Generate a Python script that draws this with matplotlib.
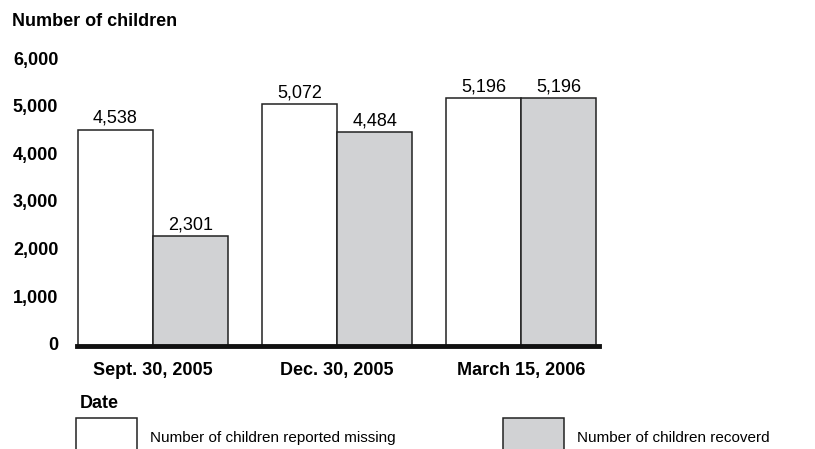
import numpy as np
import matplotlib.pyplot as plt
import matplotlib.transforms as mtransforms
from matplotlib.patches import Patch

plt.rcParams['font.family'] = ['Liberation Sans', 'DejaVu Sans']

dates = ['Sept. 30, 2005', 'Dec. 30, 2005', 'March 15, 2006']
missing = [4538, 5072, 5196]
recovered = [2301, 4484, 5196]
yticks = [0, 1000, 2000, 3000, 4000, 5000, 6000]


def main():
    fig = plt.figure(figsize=(8.15, 4.49), dpi=100)
    ax = fig.add_axes([77 / 815, 103 / 449, 522 / 815, 286 / 449])

    x = np.arange(len(dates))
    w = 0.408
    b1 = ax.bar(x - w / 2, missing, w, color='white', edgecolor='#222222', linewidth=1.1)
    b2 = ax.bar(x + w / 2, recovered, w, color='#d1d2d4', edgecolor='#222222', linewidth=1.1)

    for bars, vals in ((b1, missing), (b2, recovered)):
        for rect, v in zip(bars, vals):
            ax.text(rect.get_x() + rect.get_width() / 2, v + 60, f'{v:,}',
                    ha='center', va='bottom', fontsize=13)

    ax.set_xlim(-w - 0.005, 2 + w + 0.015)
    ax.set_ylim(0, 6000)
    ax.set_yticks(yticks)
    ax.set_yticklabels([f'{t:,}' for t in yticks], fontsize=13, fontweight='bold')
    ax.set_xticks(x)
    ax.set_xticklabels(dates, fontsize=13, fontweight='bold')
    ax.tick_params(axis='y', length=0, pad=13.5)
    ax.tick_params(axis='x', length=0, pad=11.5)

    # nudge y labels slightly up like the original
    shift = mtransforms.ScaledTranslation(0, 2 / 100, fig.dpi_scale_trans)
    for lab in ax.get_yticklabels():
        lab.set_transform(lab.get_transform() + shift)

    for s in ('top', 'right', 'left'):
        ax.spines[s].set_visible(False)
    ax.spines['bottom'].set_linewidth(3.5)
    ax.spines['bottom'].set_color('#111111')

    fig.text(12 / 815, 1 - 21 / 449, 'Number of children', fontsize=13,
             fontweight='bold', va='center')
    fig.text(80 / 815, 1 - 404 / 449, 'Date', fontsize=13,
             fontweight='bold', va='center')

    handles = [Patch(facecolor='white', edgecolor='#222222', linewidth=1.1),
               Patch(facecolor='#d1d2d4', edgecolor='#222222', linewidth=1.1)]
    fig.legend(handles, ['Number of children reported missing', 'Number of children recoverd'],
               loc='upper left', bbox_to_anchor=(76 / 815, 1 - 418 / 449),
               ncol=2, frameon=False, fontsize=11, handlelength=4.0, handleheight=3.6,
               handletextpad=0.85, columnspacing=7.0, borderpad=0, borderaxespad=0)

    fig.savefig('out.png', dpi=100)


if __name__ == '__main__':
    main()
